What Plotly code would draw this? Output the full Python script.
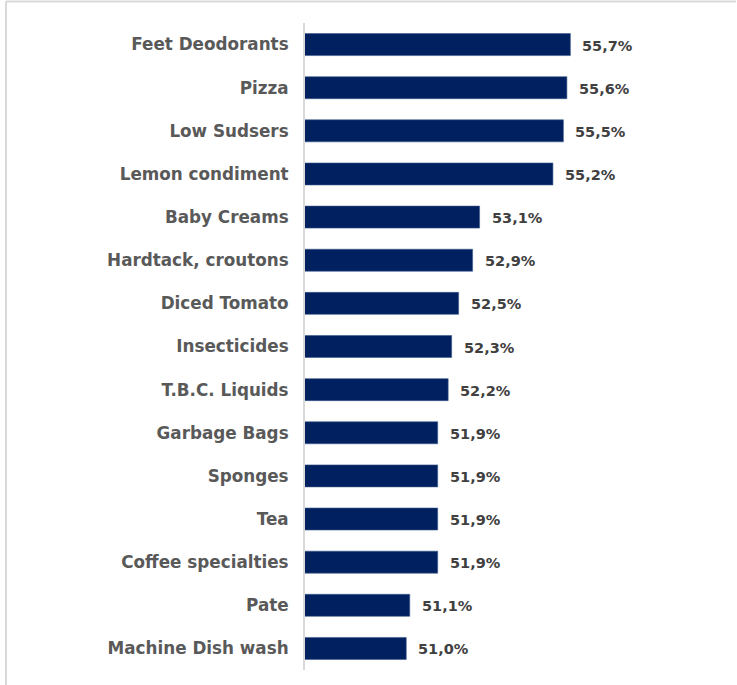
import plotly.graph_objects as go

categories = [
    "Feet Deodorants", "Pizza", "Low Sudsers", "Lemon condiment", "Baby Creams",
    "Hardtack, croutons", "Diced Tomato", "Insecticides", "T.B.C. Liquids",
    "Garbage Bags", "Sponges", "Tea", "Coffee specialties", "Pate",
    "Machine Dish wash",
]
values = [55.7, 55.6, 55.5, 55.2, 53.1, 52.9, 52.5, 52.3, 52.2, 51.9, 51.9, 51.9, 51.9, 51.1, 51.0]

W, H = 737, 685
M = dict(l=305, r=13, t=23, b=15)

fig = go.Figure(
    go.Bar(
        x=values,
        y=categories,
        orientation="h",
        marker=dict(color="#002060", line=dict(color="#3d5a8c", width=0.6)),
        width=0.51,
        hoverinfo="skip",
    )
)

# value labels to the right of each bar, decimal comma
for c, v in zip(categories, values):
    fig.add_annotation(
        x=v, y=c, xref="x", yref="y",
        text=f"{v:.1f}%".replace(".", ","),
        showarrow=False, xanchor="left", xshift=10, yshift=-1,
        font=dict(family="DejaVu Sans", size=14.5, color="#404040", weight="bold"),
    )

# light frame along the top and left edges
pw = W - M["l"] - M["r"]
ph = H - M["t"] - M["b"]
x_left = (6 - M["l"]) / pw
y_top = (H - 1.5 - M["b"]) / ph
fig.add_shape(type="line", xref="paper", yref="paper", x0=x_left, x1=(736 - M["l"]) / pw,
              y0=y_top, y1=y_top, line=dict(color="#d9d9d9", width=2))
fig.add_shape(type="line", xref="paper", yref="paper", x0=x_left, x1=x_left,
              y0=y_top, y1=(0 - M["b"]) / ph, line=dict(color="#d9d9d9", width=2))

fig.update_layout(
    width=W, height=H, margin=M,
    paper_bgcolor="white", plot_bgcolor="white",
    showlegend=False,
    xaxis=dict(range=[48.1, 60.1], visible=False, fixedrange=True),
    yaxis=dict(
        autorange="reversed",
        showline=True, linecolor="#d9d9d9", linewidth=2,
        ticks="", showgrid=False, zeroline=False,
        ticklabelstandoff=11,
        tickfont=dict(family="DejaVu Sans", size=16.8, color="#595959", weight="bold"),
    ),
)

fig.write_html("out.html")
